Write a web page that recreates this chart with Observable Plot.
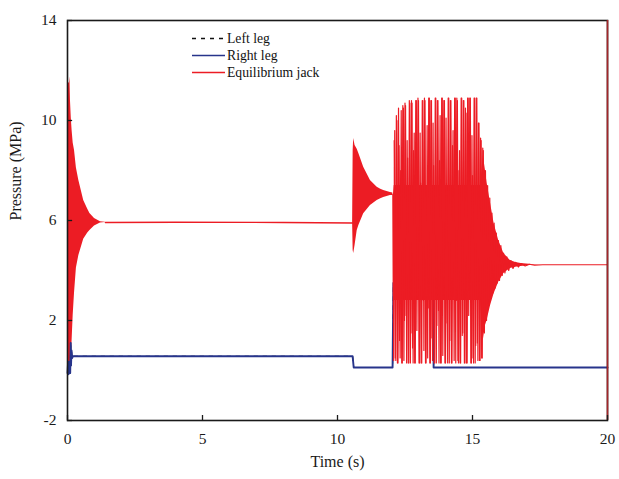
<!DOCTYPE html>
<html>
<head>
<meta charset="utf-8">
<script src="https://cdn.jsdelivr.net/npm/d3@7"></script>
<script src="https://cdn.jsdelivr.net/npm/@observablehq/plot@0.6"></script>
<style>
  body { margin: 0; background: #fff; }
  #wrap { position: relative; width: 619px; height: 479px; font-family: "Liberation Serif", "Times New Roman", serif; }
  #legend { position: absolute; left: 192px; top: 30px; font-size: 13.7px; color: #111; line-height: 17px; }
  #legend div { display: flex; align-items: center; height: 17px; }
  #legend svg { width: 33px; height: 17px; margin-right: 2px; }
</style>
</head>
<body>
<div id="wrap">
  <div id="chart"></div>
  <div id="legend"></div>
</div>
<script>
// ---- data ----
const xTicks = [0, 5, 10, 15, 20];
const yTicks = [-2, 2, 6, 10, 14];
const seriesNames = ["Left leg", "Right leg", "Equilibrium jack"];
const seriesColors = ["#111111", "#27348b", "#ec1c24"];

// start-up transient envelope of the equilibrium jack (solid band)
const bandA_t  = [0, 0.01, 0.03, 0.07, 0.09, 0.11, 0.14, 0.17, 0.21, 0.26, 0.33, 0.42, 0.6, 0.75, 0.83, 1.0, 1.22, 1.4];
const bandA_hi = [9.0, 11.5, 11.5, 11.5, 11.75, 10.8, 10.1, 9.6, 9.1, 8.8, 8.1, 7.6, 6.8, 6.45, 6.28, 6.08, 5.95, 5.93];
const bandA_lo = [1.0, 0.6, 0.3, 0.3, 0.3, 0.3, 0.5, 1.2, 2.2, 3.1, 4.1, 4.6, 5.25, 5.5, 5.6, 5.78, 5.9, 5.92];

// transient at ~10.6 s
const bandB_t  = [10.56, 10.58, 10.6, 10.65, 10.73, 10.79, 10.97, 11.22, 11.47, 11.6, 11.71, 11.96, 12.05];
const bandB_hi = [5.9, 8.8, 9.28, 9.0, 8.85, 8.68, 8.13, 7.6, 7.33, 7.25, 7.2, 7.12, 7.1];
const bandB_lo = [5.9, 4.8, 4.68, 5.0, 5.6, 5.8, 6.27, 6.6, 6.8, 6.87, 6.92, 7.0, 7.0];

// dense core of the 12-15.4 s oscillation, then its decay (solid band)
const bandC_t  = [12.07, 12.1, 15.3, 15.4, 15.48, 15.54, 15.67, 15.8, 15.97, 16.16, 16.4, 16.6, 16.8, 17.2, 17.6];
const bandC_hi = [7.0, 7.4, 7.4, 8.6, 8.0, 7.5, 6.68, 5.88, 5.2, 4.68, 4.4, 4.32, 4.28, 4.24, 4.23];
const bandC_lo = [3.0, 2.8, 2.8, 1.2, 1.8, 2.0, 2.6, 3.07, 3.53, 3.88, 4.08, 4.13, 4.16, 4.21, 4.23];

// equilibrium jack: steady part
const jackFlat_t = [1.4, 4.0, 8.0, 10.56];
const jackFlat_v = [5.92, 5.93, 5.92, 5.9];

// equilibrium jack: oscillation from 12 s to the end
const jackOsc_t = [12.05, 12.08, 12.12, 12.16, 12.20, 12.24, 12.28, 12.32, 12.36, 12.40, 12.44, 12.48, 12.52, 12.56, 12.60, 12.64, 12.68, 12.72, 12.76, 12.80,
  12.84, 12.88, 12.92, 12.96, 13.00, 13.04, 13.08, 13.12, 13.16, 13.20, 13.24, 13.28, 13.32, 13.36, 13.40, 13.44, 13.48, 13.52, 13.56, 13.60,
  13.64, 13.68, 13.72, 13.76, 13.80, 13.84, 13.88, 13.92, 13.96, 14.00, 14.04, 14.08, 14.12, 14.16, 14.20, 14.24, 14.28, 14.32, 14.36, 14.40,
  14.44, 14.48, 14.52, 14.56, 14.60, 14.64, 14.68, 14.72, 14.76, 14.80, 14.84, 14.88, 14.92, 14.96, 15.00, 15.04, 15.08, 15.12, 15.16, 15.20,
  15.24, 15.28, 15.32, 15.36, 15.40, 15.44, 15.48, 15.52, 15.56, 15.60, 15.64, 15.68, 15.72, 15.76, 15.80, 15.84, 15.88, 15.92, 15.96, 16.00,
  16.05, 16.10, 16.15, 16.20, 16.27, 16.34, 16.42, 16.50, 16.60, 16.70, 16.80, 16.95, 17.10, 17.30, 17.60, 20.0];
const jackOsc_v = [7.05, 0.4, 9.6, 0.4, 10.0, 0.3, 9.0, 0.5, 10.4, 0.3, 10.5, 2.0, 10.6, 0.3, 8.5, 0.3, 10.7, 1.5, 10.7, 0.3,
  9.5, 0.3, 10.8, 3.0, 10.8, 0.3, 7.5, 0.3, 10.8, 0.8, 10.8, 0.3, 9.8, 2.5, 10.9, 0.3, 10.8, 0.4, 8.2, 0.3,
  10.9, 1.8, 10.8, 0.3, 10.2, 0.3, 10.9, 3.5, 10.8, 0.3, 7.0, 0.3, 10.9, 1.2, 10.8, 0.3, 9.6, 0.4, 10.9, 2.8,
  10.8, 0.3, 8.8, 0.3, 10.9, 1.5, 10.8, 0.3, 10.3, 0.3, 10.9, 3.2, 10.9, 0.3, 7.8, 0.3, 10.9, 1.0, 10.9, 0.4,
  9.9, 0.4, 9.2, 0.5, 8.8, 1.5, 8.0, 2.0, 7.4, 2.6, 6.9, 2.9, 6.3, 3.1, 5.9, 3.3, 5.5, 3.5, 5.2, 3.6,
  5.0, 3.8, 4.7, 3.9, 4.55, 4.0, 4.4, 4.08, 4.33, 4.14, 4.28, 4.18, 4.25, 4.21, 4.23, 4.23];

// interleaved half-cycles of the same oscillation (the trace is denser than one zigzag)
const jackOsc2_t = [12.10, 12.14, 12.18, 12.22, 12.26, 12.30, 12.34, 12.38, 12.42, 12.46, 12.50, 12.54, 12.58, 12.62, 12.66, 12.70, 12.74, 12.78, 12.82, 12.86,
  12.90, 12.94, 12.98, 13.02, 13.06, 13.10, 13.14, 13.18, 13.22, 13.26, 13.30, 13.34, 13.38, 13.42, 13.46, 13.50, 13.54, 13.58, 13.62, 13.66,
  13.70, 13.74, 13.78, 13.82, 13.86, 13.90, 13.94, 13.98, 14.02, 14.06, 14.10, 14.14, 14.18, 14.22, 14.26, 14.30, 14.34, 14.38, 14.42, 14.46,
  14.50, 14.54, 14.58, 14.62, 14.66, 14.70, 14.74, 14.78, 14.82, 14.86, 14.90, 14.94, 14.98, 15.02, 15.06, 15.10, 15.14, 15.18, 15.22, 15.26,
  15.30, 15.34, 15.38];
const jackOsc2_v = [9.2, 0.5, 10.2, 0.3, 10.5, 1.2, 8.0, 0.3, 10.6, 0.4, 10.7, 2.2, 9.2, 0.3, 10.8, 0.3, 10.8, 0.9, 8.8, 0.3,
  10.8, 1.6, 10.9, 0.3, 9.5, 0.3, 10.8, 2.8, 10.9, 0.3, 7.2, 0.5, 10.9, 0.3, 10.8, 1.3, 9.9, 0.3, 10.9, 0.3,
  10.8, 2.4, 8.4, 0.3, 10.9, 0.6, 10.8, 0.3, 10.1, 1.9, 10.9, 0.3, 10.8, 0.3, 9.0, 3.0, 10.9, 0.3, 10.9, 0.4,
  8.0, 0.3, 10.9, 1.4, 10.8, 0.3, 10.5, 0.3, 10.9, 2.2, 10.9, 0.3, 9.4, 0.5, 10.9, 0.3, 10.9, 1.1, 9.9, 0.4,
  9.3, 0.5, 8.9];

// right leg (left leg coincides with it)
const leg_t = [0, 0.02, 0.03, 0.05, 0.06, 0.08, 0.1, 0.12, 0.13, 0.15, 0.17, 0.2, 10.56, 10.6, 12.04, 12.07, 13.54, 13.56, 20];
const leg_v = [-0.1, 0.3, -0.15, 0.35, -0.12, 0.3, -0.1, 1.1, 0.2, 0.8, 0.5, 0.57, 0.57, 0.12, 0.12, 3.5, 3.5, 0.12, 0.12];

// ---- build tables ----
const band = (ts, lo, hi) => ts.map((t, i) => ({t, lo: lo[i], hi: hi[i]}));
const series = (ts, vs) => ts.map((t, i) => ({t, v: vs[i]}));
const bandA = band(bandA_t, bandA_lo, bandA_hi);
const bandB = band(bandB_t, bandB_lo, bandB_hi);
const bandC = band(bandC_t, bandC_lo, bandC_hi);
const jackFlat = series(jackFlat_t, jackFlat_v);
const jackOsc = series(jackOsc_t, jackOsc_v);
const jackOsc2 = series(jackOsc2_t, jackOsc2_v);
const leg = series(leg_t, leg_v);

const red = seriesColors[2], blue = seriesColors[1], black = seriesColors[0];
const font = '"Liberation Serif", "Times New Roman", serif';

const chart = Plot.plot({
  width: 619,
  height: 479,
  marginLeft: 67,
  marginRight: 12,
  marginTop: 20,
  marginBottom: 59,
  x: {domain: [0, 20]},
  y: {domain: [-2, 14]},
  style: {fontFamily: font, fontSize: "15px", color: "#1a1a1a", background: "#fff"},
  marks: [
    Plot.areaY(bandA, {x: "t", y1: "lo", y2: "hi", fill: red}),
    Plot.line(leg, {x: "t", y: "v", stroke: black, strokeWidth: 1.1, strokeDasharray: "4 5"}),
    Plot.line(leg, {x: "t", y: "v", stroke: blue, strokeWidth: 1.9}),
    Plot.line(jackFlat, {x: "t", y: "v", stroke: red, strokeWidth: 1.3}),
    Plot.areaY(bandB, {x: "t", y1: "lo", y2: "hi", fill: red}),
    Plot.areaY(bandC, {x: "t", y1: "lo", y2: "hi", fill: red}),
    Plot.line(jackOsc2, {x: "t", y: "v", stroke: red, strokeWidth: 1.2}),
    Plot.line(jackOsc, {x: "t", y: "v", stroke: red, strokeWidth: 1.2}),
    Plot.frame({stroke: "#1a1a1a", strokeWidth: 1.6}),
    Plot.ruleX([20], {stroke: "#a3262a", strokeWidth: 1.6}),
    Plot.ruleY(yTicks, {x1: 0, x2: 0.19, stroke: "#1a1a1a", strokeWidth: 1.3}),
    Plot.ruleX(xTicks, {y1: -2, y2: -1.8, stroke: "#1a1a1a", strokeWidth: 1.3}),
    Plot.axisY(yTicks, {tickSize: 0, tickPadding: 11, label: null, fontSize: 15.5, tickFormat: d => String(d)}),
    Plot.axisX(xTicks, {tickSize: 0, tickPadding: 12, label: null, fontSize: 15.5, tickFormat: d => String(d)}),
    Plot.text(["Time (s)"], {frameAnchor: "bottom", dy: 46, fontSize: 16}),
    Plot.text(["Pressure (MPa)"], {frameAnchor: "left", rotate: -90, dx: -52, fontSize: 16})
  ]
});
document.getElementById("chart").appendChild(chart);

// legend inside the plot area
const legend = document.getElementById("legend");
seriesNames.forEach((name, i) => {
  const row = document.createElement("div");
  const dash = i === 0 ? ' stroke-dasharray="4 5"' : '';
  row.innerHTML = `<svg viewBox="0 0 33 17"><line x1="0" y1="8.5" x2="33" y2="8.5" stroke="${seriesColors[i]}" stroke-width="1.5"${dash}/></svg><span>${name}</span>`;
  legend.appendChild(row);
});
</script>
</body>
</html>
